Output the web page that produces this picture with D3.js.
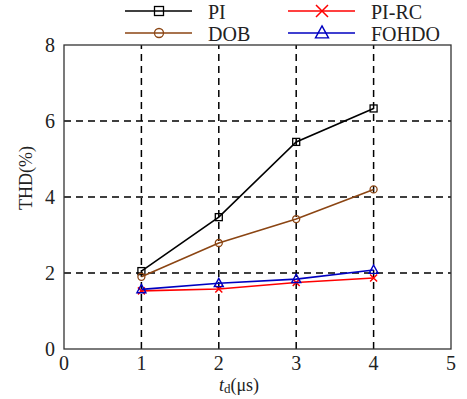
<!DOCTYPE html>
<html>
<head>
<meta charset="utf-8">
<script src="https://cdn.jsdelivr.net/npm/d3@7"></script>
<style>
  body { margin: 0; background: #fff; }
</style>
</head>
<body>
<svg id="chart" width="467" height="399"></svg>
<script>
// Data
const delays = [1, 2, 3, 4];
const piValues = [2.05, 3.47, 5.45, 6.33];
const dobValues = [1.9, 2.79, 3.42, 4.2];
const pircValues = [1.53, 1.58, 1.75, 1.87];
const fohdoValues = [1.57, 1.73, 1.84, 2.08];
const xTicks = [0, 1, 2, 3, 4, 5];
const yTicks = [0, 2, 4, 6, 8];

const series = [
  { name: "PI", values: piValues, color: "#000000", marker: "square" },
  { name: "DOB", values: dobValues, color: "#8B4513", marker: "circle" },
  { name: "PI-RC", values: pircValues, color: "#ff0000", marker: "cross" },
  { name: "FOHDO", values: fohdoValues, color: "#0000c0", marker: "triangle" }
];

const FONT = "Liberation Serif";
const svg = d3.select("#chart");
const margin = { left: 64, right: 16, top: 45, bottom: 50 };
const width = 467, height = 399;

const x = d3.scaleLinear().domain([0, 5]).range([margin.left, width - margin.right]);
const y = d3.scaleLinear().domain([0, 8]).range([height - margin.bottom, margin.top]);

// grid lines (dashed)
svg.append("g").selectAll("line").data([1, 2, 3, 4]).enter().append("line")
  .attr("x1", d => x(d)).attr("x2", d => x(d))
  .attr("y1", y(0)).attr("y2", y(8))
  .attr("stroke", "#000").attr("stroke-width", 1.5)
  .attr("stroke-dasharray", "7,5");

svg.append("g").selectAll("line").data([2, 4, 6]).enter().append("line")
  .attr("x1", x(0)).attr("x2", x(5))
  .attr("y1", d => y(d)).attr("y2", d => y(d))
  .attr("stroke", "#000").attr("stroke-width", 1.5)
  .attr("stroke-dasharray", "7,5");

// frame
svg.append("rect")
  .attr("x", x(0)).attr("y", y(8))
  .attr("width", x(5) - x(0)).attr("height", y(0) - y(8))
  .attr("fill", "none").attr("stroke", "#333").attr("stroke-width", 1.3);

// tick labels
svg.append("g").selectAll("text").data(xTicks).enter().append("text")
  .attr("x", d => x(d)).attr("y", y(0) + 21)
  .attr("text-anchor", "middle").attr("font-family", FONT).attr("font-size", 20).attr("fill", "#222")
  .text(d => d);

svg.append("g").selectAll("text").data(yTicks).enter().append("text")
  .attr("x", x(0) - 9).attr("y", d => y(d) + 7)
  .attr("text-anchor", "end").attr("font-family", FONT).attr("font-size", 20).attr("fill", "#222")
  .text(d => d);

// axis titles
svg.append("text")
  .attr("transform", "translate(32,178) rotate(-90)")
  .attr("text-anchor", "middle").attr("font-family", FONT).attr("font-size", 18).attr("fill", "#222")
  .text("THD(%)");

const xt = svg.append("text")
  .attr("x", 239).attr("y", 391)
  .attr("text-anchor", "middle").attr("font-family", FONT).attr("font-size", 18).attr("fill", "#222");
xt.append("tspan").attr("font-style", "italic").text("t");
xt.append("tspan").attr("font-size", 13).attr("dy", 2).text("d");
xt.append("tspan").attr("dy", -2).text("(μs)");

function drawMarker(g, type, cx, cy, s, color) {
  if (type === "square") {
    g.append("rect").attr("x", cx - s / 2).attr("y", cy - s / 2)
      .attr("width", s).attr("height", s)
      .attr("fill", "none").attr("stroke", color).attr("stroke-width", 1.3);
  } else if (type === "circle") {
    g.append("circle").attr("cx", cx).attr("cy", cy).attr("r", s / 2)
      .attr("fill", "none").attr("stroke", color).attr("stroke-width", 1.3);
  } else if (type === "cross") {
    const h = s / 2;
    g.append("path")
      .attr("d", `M${cx - h},${cy - h}L${cx + h},${cy + h}M${cx - h},${cy + h}L${cx + h},${cy - h}`)
      .attr("stroke", color).attr("stroke-width", 1.5);
  } else if (type === "triangle") {
    const h = s / 2;
    g.append("path")
      .attr("d", `M${cx},${cy - h * 1.1}L${cx + h},${cy + h * 0.75}L${cx - h},${cy + h * 0.75}Z`)
      .attr("fill", "none").attr("stroke", color).attr("stroke-width", 1.4);
  }
}

const line = d3.line().x(d => x(d[0])).y(d => y(d[1]));

series.forEach(s => {
  const pts = delays.map((d, i) => [d, s.values[i]]);
  const g = svg.append("g");
  g.append("path").datum(pts).attr("d", line)
    .attr("fill", "none").attr("stroke", s.color).attr("stroke-width", 1.6);
  pts.forEach(p => drawMarker(g, s.marker, x(p[0]), y(p[1]), s.marker === "triangle" ? 9 : 7, s.color));
});

// legend
const legendPos = [
  { lx: 125, ly: 11 },
  { lx: 125, ly: 33 },
  { lx: 288, ly: 11 },
  { lx: 288, ly: 33 }
];
series.forEach((s, i) => {
  const p = legendPos[i];
  const g = svg.append("g");
  g.append("line").attr("x1", p.lx).attr("x2", p.lx + 67)
    .attr("y1", p.ly).attr("y2", p.ly)
    .attr("stroke", s.color).attr("stroke-width", 1.6);
  drawMarker(g, s.marker, p.lx + 34, p.ly, s.marker === "triangle" ? 13 : (s.marker === "cross" ? 12 : 9), s.color);
  g.append("text").attr("x", p.lx + 83).attr("y", p.ly + 8)
    .attr("font-family", FONT).attr("font-size", 20).attr("fill", "#222").text(s.name);
});
</script>
</body>
</html>
